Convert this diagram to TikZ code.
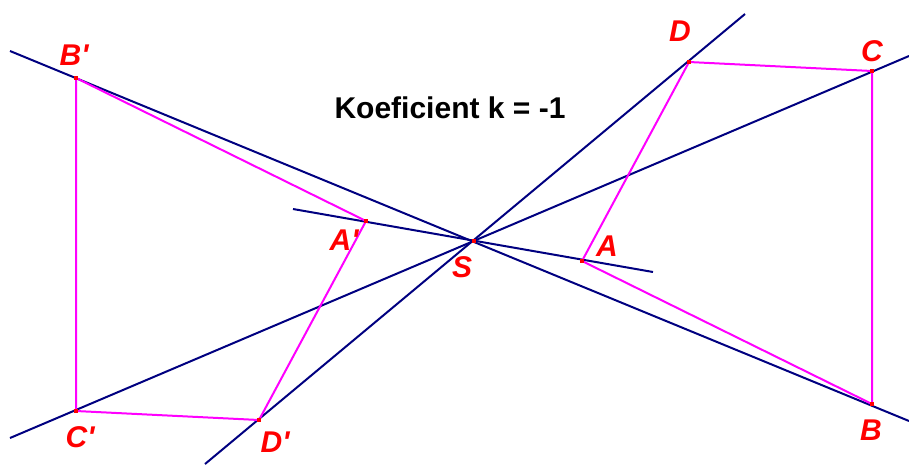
\documentclass[tikz,border=0pt]{standalone}
\usepackage{fontspec}
\setmainfont{Liberation Sans}
\usepackage{tikz}
\usetikzlibrary{positioning,calc}
\definecolor{axisblue}{HTML}{000080}
\definecolor{polypink}{HTML}{FF00FF}
\definecolor{labelred}{HTML}{FF0000}

\begin{document}
\begin{tikzpicture}[x=1pt, y=-1pt,
    ray/.style={draw=axisblue, line width=2pt},
    poly/.style={draw=polypink, line width=2pt, line join=round},
    pt/.style={rectangle, fill=labelred, inner sep=0pt, minimum size=4pt},
    ptlabel/.style={text=labelred, font=\fontsize{30}{30}\selectfont\bfseries\itshape, inner sep=0pt},
    title/.style={font=\fontsize{30}{30}\selectfont\bfseries, inner sep=0pt}
]
    \useasboundingbox (0,0) rectangle (909,464);

    % center and original points
    \coordinate (S) at (474,241);
    \coordinate (A) at (582,261);
    \coordinate (B) at (872,404);
    \coordinate (C) at (872,71);
    \coordinate (D) at (689,62);
    % images for k = -1
    \coordinate (A') at (366,221);
    \coordinate (B') at (76,78);
    \coordinate (C') at (76,411);
    \coordinate (D') at (259,420);

    % free ends of the lines through S
    \coordinate (ae1) at (293,209);
    \coordinate (ae2) at (653,272);
    \coordinate (be1) at (10,51);
    \coordinate (be2) at (909,421);
    \coordinate (ce1) at (10,438);
    \coordinate (ce2) at (909,56);
    \coordinate (de1) at (205,464);
    \coordinate (de2) at (745,14);

    % lines
    \draw[ray] (ae1) -- (ae2);
    \draw[ray] (be1) -- (be2);
    \draw[ray] (ce1) -- (ce2);
    \draw[ray] (de1) -- (de2);

    % quadrilaterals
    \draw[poly] (A) -- (B) -- (C) -- (D) -- cycle;
    \draw[poly] (A') -- (B') -- (C') -- (D') -- cycle;

    % point marks
    \foreach \p in {S,A,B,C,D,A',B',C',D'}
        \node[pt] at (\p) {};

    % labels
    \node[ptlabel] (lS) at (462,267) {S};
    \node[ptlabel] (lA) at (607,246) {A};
    \node[ptlabel] (lB) at (871,430) {B};
    \node[ptlabel] (lC) at (872,51) {C};
    \node[ptlabel] (lD) at (680,31) {D};
    \node[ptlabel] (lA') at (344,240) {A\textquotesingle};
    \node[ptlabel] (lB') at (74,55) {B\textquotesingle};
    \node[ptlabel] (lC') at (80,437) {C\textquotesingle};
    \node[ptlabel] (lD') at (275,442) {D\textquotesingle};

    \node[title] (k) at (450,108) {Koeficient k = -1};
\end{tikzpicture}
\end{document}
